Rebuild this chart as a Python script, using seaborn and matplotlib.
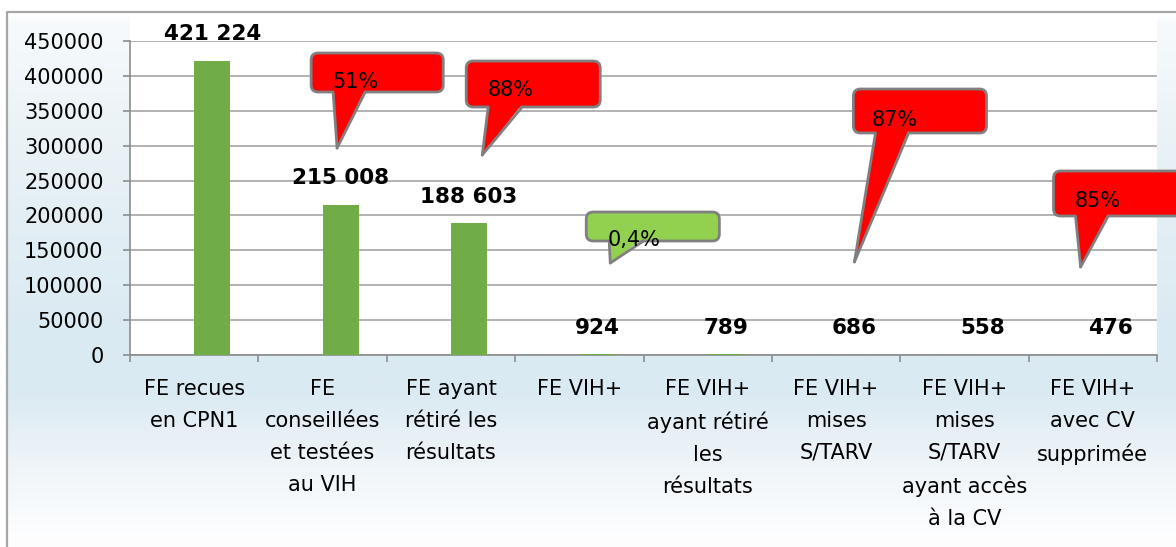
import numpy as np
import pandas as pd
import matplotlib
matplotlib.use("Agg")
import matplotlib.pyplot as plt
import seaborn as sns
from matplotlib.patches import FancyBboxPatch, Polygon, Rectangle
from matplotlib.lines import Line2D

# data
categories = ["FE recues\nen CPN1",
              "FE\nconseillées\net testées\nau VIH",
              "FE ayant\nrétiré les\nrésultats",
              "FE VIH+",
              "FE VIH+\nayant rétiré\nles\nrésultats",
              "FE VIH+\nmises\nS/TARV",
              "FE VIH+\nmises\nS/TARV\nayant accès\nà la CV",
              "FE VIH+\navec CV\nsupprimée"]
effectifs = [421224, 215008, 188603, 924, 789, 686, 558, 476]
ratios = [0, 0, 0, 0, 0, 0, 0, 0]   # hidden series (Excel layout)
yticks = list(range(0, 450001, 50000))

callout_labels = ["51%", "88%", "0,4%", "87%", "85%"]
callout_colors = ["#ff0000", "#ff0000", "#92d050", "#ff0000", "#ff0000"]

df = pd.DataFrame({
    "cat": categories * 2,
    "serie": ["ratio"] * 8 + ["FE"] * 8,
    "val": ratios + effectifs,
})

W, H = 1176, 547
fig = plt.figure(figsize=(W / 100, H / 100), dpi=100)

# background (gradient + white plot area + frame)
bg = fig.add_axes([0, 0, 1, 1], zorder=-5)
bg.set_xlim(0, W)
bg.set_ylim(H, 0)
bg.axis("off")
ys = np.arange(H)
stops_y = [0, 12, 150, 330, 390, 450, 530, 547]
r_ = np.interp(ys, stops_y, [255, 246, 232, 218, 219, 236, 252, 254])
g_ = np.interp(ys, stops_y, [255, 250, 241, 234, 234, 243, 253, 254])
b_ = np.interp(ys, stops_y, [255, 252, 246, 242, 242, 248, 254, 255])
grad = np.stack([r_, g_, b_], axis=-1)[:, None, :] / 255.0
bg.imshow(grad, extent=[7, W + 5, H, 12], aspect="auto", interpolation="bilinear")
bg.add_patch(Rectangle((130, 12), 1027, 343, fc="white", ec="none"))
bg.plot([7, 7, W + 5], [H + 5, 12, 12], color="#a6a6a6", lw=1.6)

ax = fig.add_axes([130 / W, (H - 355) / H, 1027 / W, 314 / H])
ax.set_facecolor("none")

sns.barplot(data=df, x="cat", y="val", hue="serie", hue_order=["ratio", "FE"],
            palette=["#70ad47", "#70ad47"], saturation=1, width=0.56, gap=0,
            dodge=True, linewidth=0, legend=False, ax=ax, zorder=3)

ax.set_xlim(-0.5, 7.5)
ax.set_ylim(0, 450000)
ax.set_yticks(yticks)
ax.set_yticklabels([str(v) for v in yticks])
ax.set_xlabel("")
ax.set_ylabel("")
ax.set_axisbelow(True)
ax.yaxis.grid(True, color="#a6a6a6", lw=1.2)
ax.xaxis.grid(False)
for s in ["top", "right"]:
    ax.spines[s].set_visible(False)
for s in ["left", "bottom"]:
    ax.spines[s].set_color("#8c8c8c")
    ax.spines[s].set_linewidth(1.2)

ax.tick_params(axis="y", length=5, width=1.2, color="#8c8c8c", pad=14, labelsize=15)
ax.tick_params(axis="x", which="major", length=0, pad=17, labelsize=15)
ax.set_xticks(np.arange(-0.5, 8, 1), minor=True)
ax.tick_params(axis="x", which="minor", length=5, width=1.2, color="#8c8c8c")
for lab in ax.get_xticklabels():
    lab.set_linespacing(1.75)
    lab.set_va("top")

# value labels
ax.bar_label(ax.containers[1],
             labels=[f"{v:,}".replace(",", " ") for v in effectifs],
             padding=12, fontsize=15.5, fontweight="bold", color="black")

# callouts: box (x0, x1, y0, y1), wedge base (b0, b1), tip (x, y), text pos
boxes = [(0.911, 1.940, 376900, 432800), (2.119, 3.163, 355400, 421300),
         (3.054, 4.091, 163400, 204900), (5.135, 6.172, 318200, 381200),
         (6.694, 7.90, 199200, 263700)]
bases = [(1.082, 1.332), (2.290, 2.555), (3.233, 3.500), (5.307, 5.565), (6.865, 7.120)]
tips = [(1.113, 296500), (2.244, 286600), (3.241, 131800), (5.143, 133300), (6.905, 126100)]
texts = [(1.254, 391300), (2.462, 379800), (3.43, 165000), (5.46, 337500), (7.04, 220700)]

fig.canvas.draw()
bb = ax.get_window_extent()
px_x = bb.width / 8.0
px_y = bb.height / 450000.0
asp = px_x / px_y
rnd = 7 / px_x
eps = 3 / px_y
edge = "#808080"

for lab, col, bx, bs, tp, tx in zip(callout_labels, callout_colors, boxes, bases, tips, texts):
    x0, x1, y0, y1 = bx
    ax.add_patch(FancyBboxPatch((x0, y0), x1 - x0, y1 - y0,
                                boxstyle=f"round,pad=0,rounding_size={rnd}",
                                mutation_aspect=asp, fc=col, ec=edge, lw=2,
                                clip_on=False, zorder=6))
    ax.add_patch(Polygon([(bs[0], y0 + eps), (bs[1], y0 + eps), tp], closed=True,
                         fc=col, ec="none", clip_on=False, zorder=7))
    for bxv in bs:
        ax.add_line(Line2D([bxv, tp[0]], [y0, tp[1]], color=edge, lw=2,
                           clip_on=False, zorder=7, solid_capstyle="round"))
    ax.text(tx[0], tx[1], lab, fontsize=15, ha="center", va="center",
            color="black", zorder=8, clip_on=False)

fig.savefig("out.png", dpi=100)
